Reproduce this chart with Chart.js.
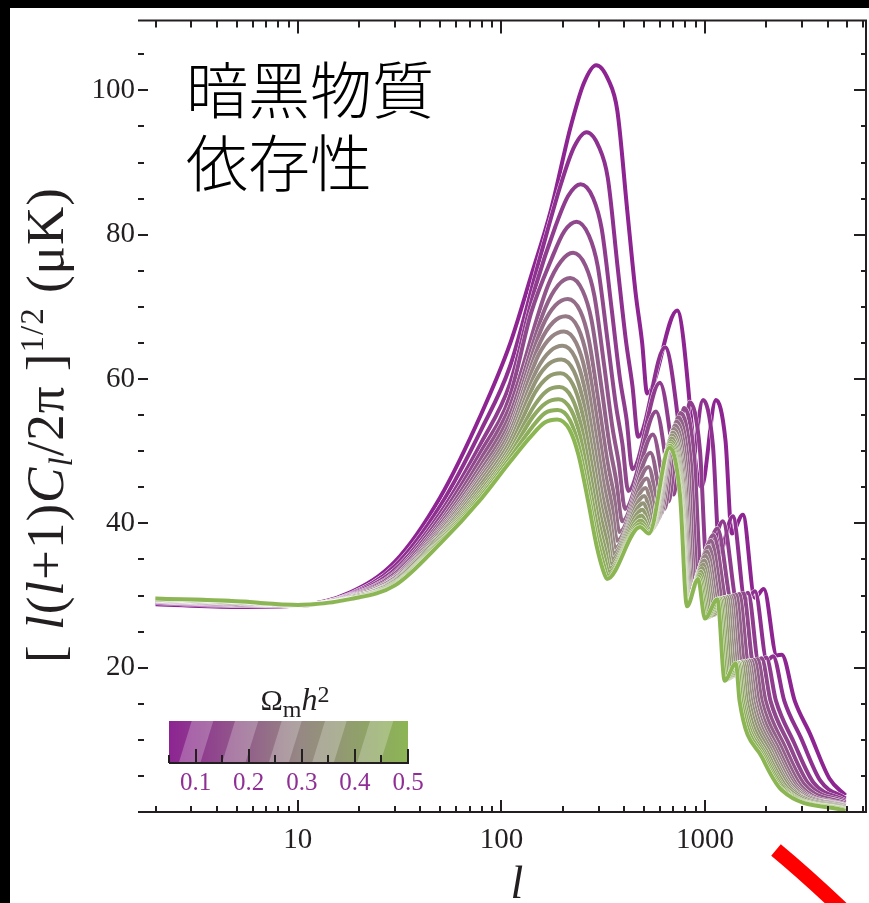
<!DOCTYPE html>
<html>
<head>
<meta charset="utf-8">
<script src="https://cdn.jsdelivr.net/npm/chart.js@4.4.1/dist/chart.umd.min.js"></script>
<style>
html, body { margin: 0; padding: 0; background: #000; }
canvas { display: block; }
</style>
</head>
<body>
<canvas id="cmbChart" width="869" height="903"></canvas>
<script>
// Omega_m h^2 of each curve (purple -> green)
const omegaMh2 = [0.05, 0.08, 0.11, 0.14, 0.17, 0.20, 0.23, 0.26, 0.29, 0.32, 0.35, 0.38, 0.41, 0.44, 0.47, 0.50];

// [l, [l(l+1)C_l/2pi]^1/2 in uK]
const cl_005 = [[2,28.8],[5,28.4],[10,28.6],[18,30.4],[30,34.7],[50,43.6],[80,55.3],[110,64.8],[140,74.3],[175,83.4],[219,95.0],[254,101.0],[292,103.5],[336,101.4],[371,97.2],[415,83.4],[456,72.0],[491,65.1],[520,58.0],[730,69.5],[960,45.0],[1132,57.1],[1261,51.5],[1355,38.6],[1535,41.2],[1758,29.7],[1945,30.9],[2254,21.7],[2382,21.8],[2761,15.4],[3273,10.9],[4093,4.6],[4900,2.3]];
const cl_008 = [[2,29.0],[5,28.6],[10,28.6],[18,30.2],[30,34.1],[50,42.4],[80,53.1],[110,61.7],[157,77.5],[197,87.2],[228,92.2],[262,94.2],[301,92.2],[333,87.9],[372,75.6],[409,65.3],[440,59.1],[470,52.0],[637,64.4],[840,46.0],[978,57.1],[1094,50.8],[1180,36.0],[1370,41.0],[1579,29.2],[1761,30.6],[2016,21.0],[2159,21.6],[2453,15.4],[2957,10.3],[3694,4.3],[4900,1.9]];
const cl_011 = [[2,29.1],[5,28.7],[10,28.6],[18,30.1],[30,33.6],[50,41.4],[80,51.3],[110,59.3],[147,72.8],[184,81.1],[213,85.4],[245,87.0],[282,85.1],[311,80.8],[348,69.7],[382,60.1],[412,54.4],[440,47.5],[600,59.5],[760,45.0],[843,56.8],[945,50.1],[1020,34.5],[1225,40.3],[1451,28.7],[1627,30.4],[1845,20.5],[1998,21.4],[2233,15.4],[2728,9.7],[3407,4.1],[4900,1.6]];
const cl_014 = [[2,29.2],[5,28.8],[10,28.6],[18,30.0],[30,33.2],[50,40.8],[80,50.1],[110,57.6],[140,69.2],[176,76.6],[204,80.5],[234,81.8],[269,79.9],[297,75.7],[332,65.4],[365,56.4],[393,51.0],[420,44.5],[575,55.5],[700,44.0],[790,56.0],[885,49.2],[955,33.5],[1150,39.3],[1372,28.4],[1544,30.3],[1739,20.2],[1897,21.3],[2098,15.4],[2585,9.4],[3228,3.9],[4900,1.4]];
const cl_017 = [[2,29.2],[5,28.8],[10,28.7],[18,29.9],[30,33.0],[50,40.2],[80,49.1],[110,56.2],[169,72.9],[196,76.3],[225,77.5],[259,75.7],[286,71.6],[320,61.8],[351,53.3],[378,48.2],[405,42.0],[555,52.3],[660,43.0],[760,55.3],[851,48.6],[918,32.8],[1100,38.4],[1304,28.2],[1473,30.2],[1649,19.8],[1810,21.2],[1984,15.4],[2464,9.1],[3076,3.8],[4900,1.2]];
const cl_020 = [[2,29.3],[5,28.9],[10,28.7],[18,29.9],[30,32.7],[50,39.8],[80,48.2],[110,55.0],[164,69.8],[190,73.0],[218,74.0],[251,72.2],[277,68.2],[310,58.9],[340,50.8],[366,46.0],[392,40.3],[540,49.8],[630,42.0],[740,54.7],[828,47.9],[893,32.2],[1070,37.6],[1253,28.0],[1420,30.1],[1583,19.6],[1746,21.1],[1899,15.4],[2373,8.9],[2962,3.6],[4900,1.0]];
const cl_023 = [[2,29.3],[5,28.9],[10,28.7],[18,29.8],[30,32.5],[50,39.4],[80,47.5],[110,54.0],[159,67.3],[184,70.2],[212,71.1],[244,69.4],[269,65.4],[301,56.5],[331,48.7],[356,44.1],[380,38.8],[528,47.8],[605,41.2],[725,54.1],[812,47.4],[875,31.7],[1045,36.8],[1211,27.8],[1376,30.0],[1528,19.4],[1692,21.0],[1829,15.4],[2298,8.7],[2869,3.5],[4900,0.9]];
const cl_026 = [[2,29.4],[5,29.0],[10,28.7],[18,29.8],[30,32.4],[50,39.1],[80,46.9],[110,53.2],[155,65.1],[180,67.9],[207,68.7],[238,67.1],[263,63.1],[294,54.6],[323,47.1],[348,42.6],[370,37.6],[518,46.2],[588,40.5],[713,53.6],[798,46.9],[860,31.2],[1025,36.1],[1178,27.6],[1340,29.9],[1484,19.2],[1649,21.0],[1773,15.4],[2237,8.5],[2792,3.5],[4900,0.8]];
const cl_029 = [[2,29.4],[5,29.0],[10,28.7],[18,29.7],[30,32.2],[50,38.8],[80,46.5],[110,52.6],[152,63.3],[177,65.9],[203,66.6],[233,65.0],[258,61.1],[288,52.9],[317,45.6],[341,41.2],[362,36.6],[510,44.9],[575,40.0],[703,53.1],[787,46.4],[849,30.8],[1008,35.5],[1151,27.5],[1312,29.9],[1449,19.1],[1615,20.9],[1729,15.4],[2189,8.4],[2733,3.4],[4900,0.7]];
const cl_032 = [[2,29.4],[5,29.0],[10,28.7],[18,29.7],[30,32.1],[50,38.5],[80,46.0],[110,51.9],[150,61.4],[174,63.9],[200,64.6],[230,63.0],[254,59.2],[284,51.2],[312,44.1],[336,40.0],[355,35.8],[503,43.8],[565,39.6],[695,52.6],[779,46.0],[840,30.4],[995,34.9],[1126,27.4],[1285,29.8],[1415,18.9],[1582,20.9],[1687,15.4],[2142,8.2],[2674,3.3],[4900,0.6]];
const cl_035 = [[2,29.5],[5,29.1],[10,28.7],[18,29.7],[30,32.0],[50,38.3],[80,45.5],[110,51.3],[148,59.8],[171,62.1],[197,62.7],[227,61.1],[250,57.4],[280,49.7],[307,42.8],[331,38.7],[349,35.0],[497,42.8],[555,39.3],[689,52.2],[772,45.5],[833,30.0],[982,34.3],[1100,27.3],[1258,29.7],[1382,18.8],[1550,20.8],[1645,15.4],[2097,8.1],[2617,3.3],[4900,0.6]];
const cl_038 = [[2,29.5],[5,29.1],[10,28.7],[18,29.6],[30,31.8],[50,38.0],[80,45.0],[110,50.6],[146,58.1],[170,60.3],[195,60.8],[224,59.3],[248,55.6],[277,48.2],[304,41.5],[328,37.6],[344,34.3],[492,41.9],[548,39.1],[684,51.8],[767,45.2],[828,29.7],[970,33.8],[1076,27.2],[1232,29.7],[1350,18.7],[1518,20.8],[1604,15.4],[2053,7.9],[2561,3.2],[4900,0.5]];
const cl_041 = [[2,29.5],[5,29.1],[10,28.7],[18,29.6],[30,31.7],[50,37.8],[80,44.6],[110,50.0],[145,56.3],[168,58.4],[193,58.9],[222,57.4],[245,53.8],[274,46.6],[301,40.1],[324,36.3],[340,33.7],[488,41.1],[542,38.9],[679,51.4],[763,44.8],[824,29.4],[958,33.3],[1052,27.1],[1206,29.6],[1318,18.5],[1487,20.7],[1564,15.4],[2009,7.8],[2506,3.1],[4900,0.4]];
const cl_044 = [[2,29.6],[5,29.2],[10,28.7],[18,29.5],[30,31.6],[50,37.6],[80,44.2],[110,49.5],[143,54.8],[166,56.7],[191,57.2],[220,55.7],[243,52.2],[271,45.2],[298,39.0],[321,35.3],[336,33.2],[485,40.4],[537,38.8],[675,51.1],[759,44.5],[821,29.1],[946,32.9],[1034,27.0],[1188,29.6],[1295,18.4],[1464,20.7],[1536,15.4],[1977,7.7],[2466,3.1],[4900,0.3]];
const cl_047 = [[2,29.6],[5,29.2],[10,28.7],[18,29.5],[30,31.5],[50,37.4],[80,43.9],[110,49.0],[142,53.4],[164,55.3],[189,55.7],[217,54.3],[240,50.7],[268,44.1],[295,37.9],[318,34.3],[333,32.7],[482,39.9],[533,38.7],[672,50.8],[756,44.2],[818,28.8],[935,32.6],[1017,26.9],[1169,29.5],[1273,18.3],[1441,20.6],[1507,15.4],[1945,7.6],[2427,3.0],[4900,0.3]];
const cl_050 = [[2,29.6],[5,29.2],[10,28.7],[18,29.5],[30,31.4],[50,37.2],[80,43.5],[110,48.5],[141,52.2],[164,54.0],[188,54.4],[216,53.0],[239,49.5],[267,43.0],[293,37.0],[316,33.5],[330,32.3],[480,39.5],[530,38.6],[670,50.5],[754,43.9],[816,28.5],[925,32.3],[1000,26.8],[1151,29.5],[1250,18.2],[1419,20.6],[1479,15.4],[1914,7.5],[2388,3.0],[4900,0.2]];

const curves = [cl_005, cl_008, cl_011, cl_014, cl_017, cl_020, cl_023, cl_026,
                cl_029, cl_032, cl_035, cl_038, cl_041, cl_044, cl_047, cl_050];

const xTickLabels = [10, 100, 1000];
const yTickLabels = [20, 40, 60, 80, 100];
const barTickLabels = [0.1, 0.2, 0.3, 0.4, 0.5];
const barRange = [0.05, 0.5];

const INK = '#231f20';
const SERIF = '"Liberation Serif", "DejaVu Serif", serif';

// purple -> grey -> green
const colorStops = [[0, [141, 36, 146]], [0.55, [150, 136, 132]], [1, [140, 181, 84]]];
function mixColor(t) {
    for (let k = 1; k < colorStops.length; k++) {
        const [t0, c0] = colorStops[k - 1];
        const [t1, c1] = colorStops[k];
        if (t <= t1) {
            const f = (t - t0) / (t1 - t0);
            const c = c0.map((v, j) => Math.round(v + (c1[j] - v) * f));
            return `rgb(${c[0]},${c[1]},${c[2]})`;
        }
    }
    const c = colorStops[colorStops.length - 1][1];
    return `rgb(${c[0]},${c[1]},${c[2]})`;
}

const datasets = [];
curves.forEach((pts, i) => {
    const data = pts.map(p => ({ x: p[0], y: p[1] }));
    const common = { data, pointRadius: 0, fill: false, cubicInterpolationMode: 'monotone' };
    // very thin white edge under each curve, like the original
    datasets.push({ ...common, label: 'halo', borderColor: '#ffffff', borderWidth: 4.7, order: 1000 - 2 * i });
    datasets.push({ ...common, label: 'Ωmh² = ' + omegaMh2[i], borderColor: mixColor(i / (curves.length - 1)), borderWidth: 4, order: 999 - 2 * i });
});

function drawRuns(ctx, runs, x, y) {
    let w = 0;
    runs.forEach(r => { ctx.font = r.font; w += ctx.measureText(r.t).width; });
    let u = x - w / 2;
    runs.forEach(r => {
        ctx.font = r.font;
        ctx.fillText(r.t, u, y + (r.dy || 0));
        u += ctx.measureText(r.t).width;
    });
}

const backgroundPlugin = {
    id: 'background',
    beforeDraw(chart) {
        const ctx = chart.ctx;
        ctx.save();
        ctx.fillStyle = '#000';
        ctx.fillRect(0, 0, chart.width, chart.height);
        ctx.fillStyle = '#fff';
        ctx.fillRect(10, 8, chart.width - 10, chart.height - 8);
        ctx.restore();
    }
};

const decorPlugin = {
    id: 'decor',
    afterDraw(chart) {
        const ctx = chart.ctx;
        const a = chart.chartArea;
        const xs = chart.scales.x, ys = chart.scales.y;
        ctx.save();

        // frame: top, right, bottom (no left spine)
        ctx.strokeStyle = INK;
        ctx.lineWidth = 2;
        ctx.beginPath();
        ctx.moveTo(a.left, a.top);
        ctx.lineTo(a.right, a.top);
        ctx.lineTo(a.right, a.bottom);
        ctx.lineTo(a.left, a.bottom);
        ctx.stroke();

        // log ticks on top and bottom, pointing inward
        ctx.beginPath();
        for (let dec = 1; dec <= 1000; dec *= 10) {
            for (let k = 1; k <= 9; k++) {
                const v = dec * k;
                if (v < xs.min || v > xs.max) continue;
                const px = Math.round(xs.getPixelForValue(v));
                const major = k === 1;
                ctx.moveTo(px, a.bottom);
                ctx.lineTo(px, a.bottom - (major ? 12 : 6));
                ctx.moveTo(px, a.top);
                ctx.lineTo(px, a.top + (major ? 13 : 7));
            }
        }
        // y ticks every 5, longer at labelled values
        for (let v = 5; v <= ys.max; v += 5) {
            const py = Math.round(ys.getPixelForValue(v));
            const major = v % 20 === 0;
            ctx.moveTo(a.left, py);
            ctx.lineTo(a.left + (major ? 10 : 6), py);
            ctx.moveTo(a.right, py);
            ctx.lineTo(a.right - (major ? 12 : 5), py);
        }
        ctx.stroke();

        // title
        ctx.fillStyle = '#000';
        ctx.textBaseline = 'middle';
        ctx.textAlign = 'left';
        ctx.font = '300 62px "Noto Sans CJK JP", "Noto Sans CJK TC", sans-serif';
        ctx.fillText('暗黑物質', 186, 90);
        ctx.fillText('依存性', 186, 163);

        // x axis title
        ctx.fillStyle = INK;
        ctx.textBaseline = 'alphabetic';
        ctx.textAlign = 'center';
        ctx.font = 'italic 46px ' + SERIF;
        ctx.fillText('l', 517, 898);

        // y axis title (rotated)
        ctx.save();
        ctx.translate(63, 425);
        ctx.rotate(-Math.PI / 2);
        ctx.textAlign = 'left';
        ctx.letterSpacing = '1px';
        const big = '53px ' + SERIF, bigI = 'italic 53px ' + SERIF;
        const sm = '33px ' + SERIF, smI = 'italic 33px ' + SERIF;
        drawRuns(ctx, [
            { t: '[ ', font: big },
            { t: 'l', font: bigI },
            { t: '(', font: big },
            { t: 'l', font: bigI },
            { t: '+1)', font: big },
            { t: 'C', font: bigI },
            { t: 'l', font: smI, dy: 9 },
            { t: '/2π ]', font: big },
            { t: '1/2', font: sm, dy: -20 },
            { t: ' (μK)', font: big }
        ], 0, 0);
        ctx.restore();

        // colour bar
        const bx0 = 169, bx1 = 408, by0 = 721, by1 = 763;
        const grad = ctx.createLinearGradient(bx0, 0, bx1, 0);
        colorStops.forEach(([t, c]) => grad.addColorStop(t, `rgb(${c[0]},${c[1]},${c[2]})`));
        ctx.fillStyle = grad;
        ctx.fillRect(bx0, by0, bx1 - bx0, by1 - by0);
        ctx.save();
        ctx.beginPath();
        ctx.rect(bx0, by0, bx1 - bx0, by1 - by0);
        ctx.clip();
        ctx.fillStyle = 'rgba(255,255,255,0.24)';
        [[191.7, 213.3], [235, 258.3], [281.7, 301.7], [325, 346.7], [370, 393.3]].forEach(([s0, s1]) => {
            ctx.beginPath();
            ctx.moveTo(s0, by0);
            ctx.lineTo(s1, by0);
            ctx.lineTo(s1 - 13, by1);
            ctx.lineTo(s0 - 13, by1);
            ctx.closePath();
            ctx.fill();
        });
        ctx.restore();

        const barX = v => bx0 + (v - barRange[0]) / (barRange[1] - barRange[0]) * (bx1 - bx0);
        ctx.strokeStyle = INK;
        ctx.lineWidth = 2;
        ctx.beginPath();
        ctx.moveTo(bx0, by1);
        ctx.lineTo(bx1 + 1, by1);
        for (let k = 1; k <= 10; k++) {
            const v = 0.05 * k;
            const px = Math.round(barX(v));
            const major = k % 2 === 0;
            ctx.moveTo(px, by1);
            ctx.lineTo(px, by1 - (major ? 14 : 8));
        }
        ctx.stroke();

        ctx.fillStyle = '#8f2f95';
        ctx.textAlign = 'center';
        ctx.textBaseline = 'middle';
        ctx.font = '25px ' + SERIF;
        barTickLabels.forEach(v => ctx.fillText(v.toFixed(1), barX(v), 783));

        ctx.fillStyle = INK;
        ctx.textAlign = 'left';
        ctx.textBaseline = 'alphabetic';
        drawRuns(ctx, [
            { t: 'Ω', font: '30px ' + SERIF },
            { t: 'm', font: '24px ' + SERIF, dy: 7 },
            { t: 'h', font: 'italic 32px ' + SERIF },
            { t: '2', font: '24px ' + SERIF, dy: -8 }
        ], 295, 710);

        // red mark at bottom right
        ctx.strokeStyle = '#ff0000';
        ctx.lineWidth = 15;
        ctx.lineCap = 'butt';
        ctx.beginPath();
        ctx.moveTo(776, 850);
        ctx.quadraticCurveTo(805, 874, 842, 909);
        ctx.stroke();

        ctx.restore();
    }
};

new Chart(document.getElementById('cmbChart').getContext('2d'), {
    type: 'line',
    data: { datasets },
    options: {
        responsive: false,
        animation: false,
        devicePixelRatio: 1,
        events: [],
        layout: { padding: { left: 0, right: 3, top: 18, bottom: 0 } },
        scales: {
            x: {
                type: 'logarithmic',
                min: 1.64,
                max: 6180,
                afterBuildTicks: s => { s.ticks = xTickLabels.map(v => ({ value: v })); },
                afterFit: s => { s.height = 91; },
                grid: { display: false, drawTicks: false },
                border: { display: false },
                ticks: {
                    color: INK,
                    font: { family: 'Liberation Serif', size: 29 },
                    padding: 11,
                    maxRotation: 0,
                    autoSkip: false,
                    callback: v => String(v)
                }
            },
            y: {
                type: 'linear',
                min: 0,
                max: 109.7,
                afterBuildTicks: s => { s.ticks = yTickLabels.map(v => ({ value: v })); },
                afterFit: s => { s.width = 138; },
                grid: { display: false, drawTicks: false },
                border: { display: false },
                ticks: {
                    color: INK,
                    font: { family: 'Liberation Serif', size: 29 },
                    padding: 3,
                    autoSkip: false,
                    callback: v => String(v)
                }
            }
        },
        plugins: {
            legend: { display: false },
            tooltip: { enabled: false }
        }
    },
    plugins: [backgroundPlugin, decorPlugin]
});
</script>
</body>
</html>
